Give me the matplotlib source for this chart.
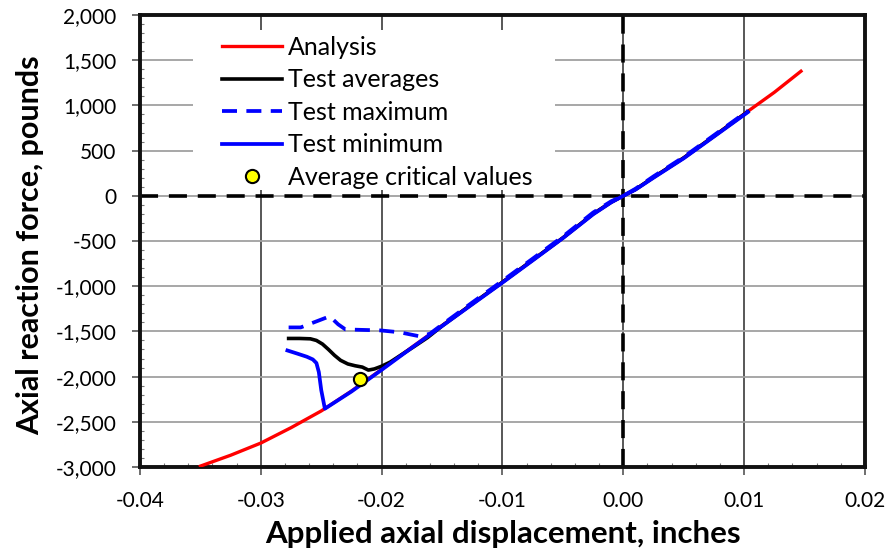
import matplotlib
matplotlib.use("Agg")
import matplotlib.pyplot as plt
from matplotlib.patches import Rectangle
from matplotlib.ticker import MultipleLocator, FuncFormatter

plt.rcParams['font.family'] = ['Lato', 'DejaVu Sans']
plt.rcParams['axes.unicode_minus'] = False

# Analysis curve: displacement (in) vs. reaction force (lb)
analysis_x = [-0.035, -0.0325, -0.030, -0.0275, -0.025, -0.0225, -0.020, -0.0175,
              -0.015, -0.0125, -0.010, -0.0075, -0.005, -0.0025, -0.001, 0.0,
              0.001, 0.0025, 0.005, 0.0075, 0.010, 0.0125, 0.0147]
analysis_y = [-2990, -2870, -2735, -2565, -2380, -2160, -1920, -1675,
              -1435, -1195, -955, -710, -465, -200, -70, 0,
              70, 205, 420, 660, 905, 1145, 1378]

# Test averages
avg_x = [-0.0277, -0.0268, -0.0259, -0.0254, -0.0249, -0.0244, -0.0239, -0.0234,
         -0.0228, -0.0222, -0.0216, -0.0211, -0.0206, -0.0200, -0.0193, -0.0185,
         -0.0174, -0.0162, -0.015, -0.0125, -0.010, -0.0075, -0.005, -0.0025,
         -0.001, 0.0, 0.001, 0.0025, 0.005, 0.0075, 0.0103]
avg_y = [-1578, -1578, -1582, -1600, -1640, -1700, -1765, -1820,
         -1860, -1880, -1895, -1928, -1915, -1885, -1840, -1770,
         -1675, -1568, -1440, -1195, -955, -710, -465, -200,
         -70, 0, 70, 205, 420, 660, 930]

# Test maximum
max_x = [-0.0277, -0.0267, -0.0243, -0.0236, -0.0230, -0.0201, -0.0185, -0.0168,
         -0.0160, -0.015, -0.0125, -0.010, -0.0075, -0.005, -0.0025, -0.001,
         0.0, 0.001, 0.0025, 0.005, 0.0075, 0.0103]
max_y = [-1456, -1456, -1333, -1422, -1478, -1489, -1510, -1556,
         -1525, -1425, -1180, -940, -695, -450, -185, -60,
         0, 78, 215, 430, 670, 940]

# Test minimum
min_x = [-0.0278, -0.0270, -0.0262, -0.0257, -0.0254, -0.0252, -0.0250, -0.0247,
         -0.0225, -0.020, -0.0175, -0.015, -0.0125, -0.010, -0.0075, -0.005,
         -0.0025, -0.001, 0.0, 0.001, 0.0025, 0.005, 0.0075, 0.0103]
min_y = [-1711, -1745, -1780, -1810, -1850, -1950, -2150, -2355,
         -2165, -1925, -1680, -1440, -1200, -960, -715, -468,
         -205, -72, 0, 68, 200, 415, 655, 925]

# Average critical value
crit_x = [-0.0218]
crit_y = [-2025]

x_ticks = [-0.04, -0.03, -0.02, -0.01, 0.00, 0.01, 0.02]
y_ticks = [-3000, -2500, -2000, -1500, -1000, -500, 0, 500, 1000, 1500, 2000]

fig = plt.figure(figsize=(8.91, 5.60), dpi=100)
ax = fig.add_axes([140 / 891, 1 - 467 / 560, 725 / 891, 452 / 560])

ax.set_xlim(-0.04, 0.02)
ax.set_ylim(-3000, 2000)
ax.set_xticks(x_ticks)
ax.set_yticks(y_ticks)
ax.xaxis.set_minor_locator(MultipleLocator(0.002))
ax.yaxis.set_minor_locator(MultipleLocator(100))
ax.xaxis.set_major_formatter(FuncFormatter(lambda v, p: f"{v:.2f}".replace("-0.00", "0.00")))
ax.yaxis.set_major_formatter(FuncFormatter(lambda v, p: f"{v:,.0f}"))

ax.set_axisbelow(True)
ax.xaxis.grid(True, which='major', color='#2a2a2a', lw=1.1)
ax.yaxis.grid(True, which='major', color='#a0a0a0', lw=1.3)

ax.tick_params(axis='both', which='major', direction='out', length=6, width=1.2,
               color='#555555', labelsize=15, pad=11)
ax.tick_params(axis='both', which='minor', direction='in', length=3, width=0.8,
               color='#777777')
for s in ax.spines.values():
    s.set_linewidth(2.8)
    s.set_color('#111111')

# white panel behind the legend
ax.add_patch(Rectangle((0.073, 0.613), 0.499, 0.354, transform=ax.transAxes,
                       facecolor='white', edgecolor='none', zorder=1))

# zero reference lines
ax.axhline(0, color='black', lw=2.6, ls=(0, (5, 3)), zorder=2)
ax.axvline(0, color='black', lw=2.6, ls=(0, (5, 3)), zorder=2)

ax.plot(analysis_x, analysis_y, color='#ff0000', lw=2.4, zorder=3, label='Analysis')
ax.plot(avg_x, avg_y, color='black', lw=2.6, zorder=4, label='Test averages')
ax.plot(max_x, max_y, color='#0000ff', lw=2.7, ls=(0, (4, 2.5)), zorder=6,
        label='Test maximum')
ax.plot(min_x, min_y, color='#0000ff', lw=2.7, zorder=5, label='Test minimum')
ax.plot(crit_x, crit_y, 'o', color='#ffff00', mec='black', mew=1.5, ms=9.5,
        zorder=7, label='Average critical values', ls='none')

ax.legend(loc='upper left', bbox_to_anchor=(0.113, 0.954), frameon=False,
          fontsize=18, borderpad=0, borderaxespad=0, handlelength=2.4,
          handletextpad=0.25, labelspacing=0.38)

ax.set_xlabel('Applied axial displacement, inches', fontsize=22.5, fontweight='bold')
ax.set_ylabel('Axial reaction force, pounds', fontsize=22, fontweight='bold')
ax.xaxis.set_label_coords(0.5, -0.118)
ax.yaxis.set_label_coords(-0.132, 0.49)

fig.savefig('out.png', dpi=100)
